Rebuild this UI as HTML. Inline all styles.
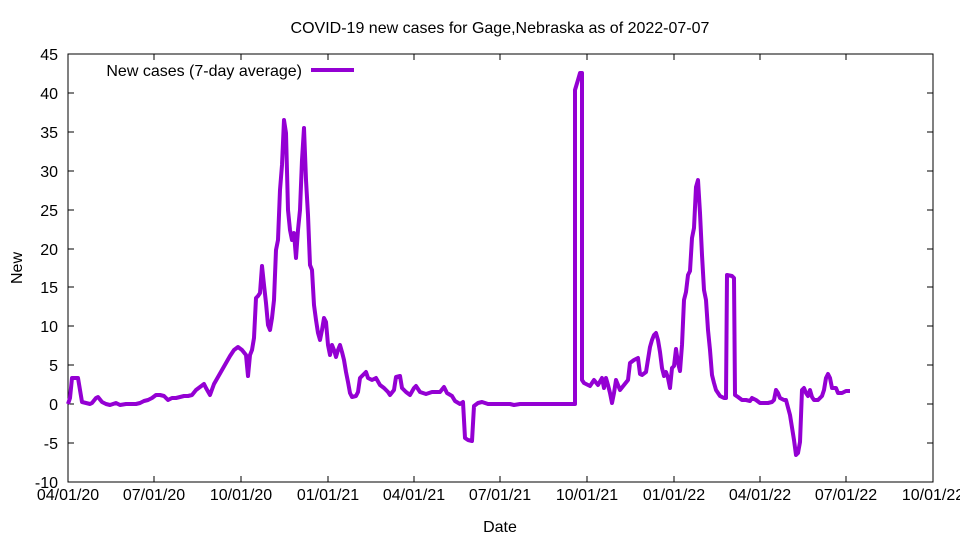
<!DOCTYPE html>
<html><head><meta charset="utf-8"><style>body{margin:0;background:#fff}svg{display:block}text{font-family:"Liberation Sans",sans-serif;font-size:16px;fill:#000}</style></head><body>
<svg width="960" height="540" viewBox="0 0 960 540">
<rect x="68" y="54" width="865" height="428" fill="none" stroke="#000" stroke-width="1"/>
<g stroke="#000" stroke-width="1">
<path d="M68 54h6M68 93h6M68 132h6M68 171h6M68 210h6M68 249h6M68 287h6M68 326h6M68 365h6M68 404h6M68 443h6M68 482h6"/>
<path d="M933 54h-6M933 93h-6M933 132h-6M933 171h-6M933 210h-6M933 249h-6M933 287h-6M933 326h-6M933 365h-6M933 404h-6M933 443h-6M933 482h-6"/>
<path d="M154 482v-6M241 482v-6M328 482v-6M414 482v-6M500 482v-6M587 482v-6M674 482v-6M760 482v-6M846 482v-6"/>
<path d="M154 54v6M241 54v6M328 54v6M414 54v6M500 54v6M587 54v6M674 54v6M760 54v6M846 54v6"/>
</g>
<g text-anchor="end">
<text x="58" y="60">45</text><text x="58" y="99">40</text><text x="58" y="138">35</text><text x="58" y="177">30</text><text x="58" y="216">25</text><text x="58" y="255">20</text><text x="58" y="293">15</text><text x="58" y="332">10</text><text x="58" y="371">5</text><text x="58" y="410">0</text><text x="58" y="449">-5</text><text x="58" y="488">-10</text>
</g>
<g text-anchor="middle">
<text x="68" y="500">04/01/20</text><text x="154" y="500">07/01/20</text><text x="241" y="500">10/01/20</text><text x="328" y="500">01/01/21</text><text x="414" y="500">04/01/21</text><text x="500" y="500">07/01/21</text><text x="587" y="500">10/01/21</text><text x="674" y="500">01/01/22</text><text x="760" y="500">04/01/22</text><text x="846" y="500">07/01/22</text><text x="933" y="500">10/01/22</text>
<text x="500" y="532">Date</text>
<text x="500" y="33">COVID-19 new cases for Gage,Nebraska as of 2022-07-07</text>
<text transform="translate(22,268) rotate(-90)">New</text>
</g>
<text x="302" y="76" text-anchor="end">New cases (7-day average)</text>
<path d="M311 70H354" stroke="#9400d3" stroke-width="4"/>
<polyline fill="none" stroke="#9400d3" stroke-width="4" stroke-linejoin="round" points="68,404 70,398 72,378 78,378 80,390 82,402 90,404 92,403 96,398 98,397 102,402 106,404 110,405 116,403 120,405 126,404 136,404 140,403 144,401 148,400 152,398 156,395 160,395 164,396 168,400 172,398 176,398 180,397 184,396 188,396 192,395 196,390 200,387 204,384 206,388 210,395 214,384 218,377 222,370 226,363 230,356 234,350 238,347 242,350 246,355 248,376 250,355 252,350 254,338 256,298 258,296 260,293 262,266 264,285 266,303 268,325 270,330 272,318 274,300 276,250 278,240 280,190 282,165 284,120 286,133 288,210 290,230 292,240 294,233 296,258 298,230 300,210 302,160 304,128 306,180 308,215 310,265 312,270 314,305 316,320 318,333 320,340 322,330 324,318 326,322 328,345 330,355 332,345 334,350 336,357 338,350 340,345 342,352 344,360 346,372 348,382 350,393 352,397 356,396 358,392 360,378 362,376 366,372 368,378 372,380 376,378 380,385 384,388 388,392 390,395 394,390 396,377 400,376 402,388 406,392 410,395 414,388 416,386 420,392 426,394 432,392 440,392 444,387 447,393 452,396 455,401 460,404 463,402 465,438 468,440 472,441 474,406 478,403 482,402 488,404 510,404 514,405 520,404 575,404 575,90 578,80 580,73 582,73 582,380 584,383 590,386 594,380 598,385 602,378 604,388 606,378 608,385 610,393 612,403 614,393 616,380 618,385 620,390 624,385 628,380 630,363 634,360 638,358 640,374 642,375 646,372 650,347 652,340 654,335 656,333 658,340 660,352 662,368 664,376 666,372 668,378 670,388 672,368 674,366 676,349 678,363 680,371 682,345 684,300 686,292 688,275 690,271 692,238 694,228 696,187 698,180 700,213 702,255 704,290 706,300 708,330 710,350 712,375 714,383 716,390 718,393 720,396 724,398 726,398 727,275 732,276 734,278 735,395 738,397 742,400 746,400 750,401 752,398 756,400 760,403 768,403 772,402 774,400 776,390 778,393 780,398 784,400 786,400 790,415 794,440 796,455 798,453 800,442 802,390 804,388 806,393 808,396 810,390 812,397 814,400 818,400 822,396 824,390 826,378 828,374 830,378 832,388 836,388 838,393 842,393 846,391 850,391"/>
</svg>
</body></html>
